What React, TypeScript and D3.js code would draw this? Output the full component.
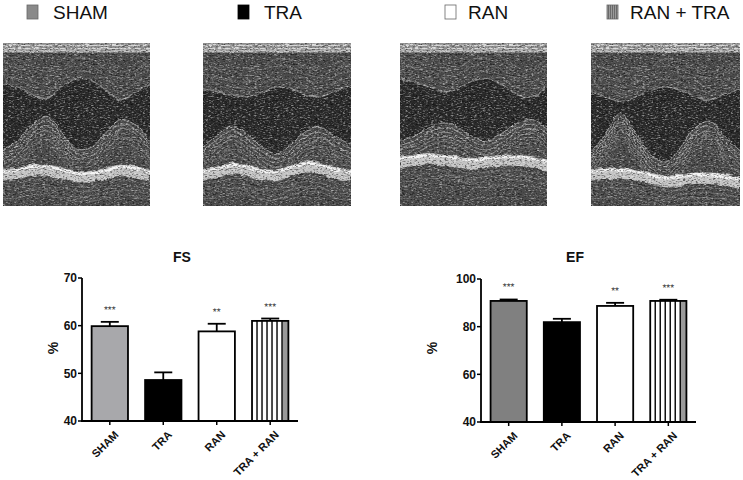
import * as d3 from "d3";

const GROUPS = ["SHAM", "TRA", "RAN", "TRA + RAN"];
const LEGEND_LABELS = ["SHAM", "TRA", "RAN", "RAN + TRA"];

const FS_MEAN = [59.9, 48.6, 58.8, 61.0];
const FS_SEM = [0.9, 1.6, 1.6, 0.5];
const FS_STARS = ["***", "", "**", "***"];
const FS_TICKS = [40, 50, 60, 70];

const EF_MEAN = [90.8, 81.9, 88.7, 90.8];
const EF_SEM = [0.6, 1.4, 1.3, 0.5];
const EF_STARS = ["***", "", "**", "***"];
const EF_TICKS = [40, 60, 80, 100];

// M-mode wall traces (fraction of image height), 11 samples across each image
const SEPTUM = [
  [0.25, 0.27, 0.32, 0.34, 0.27, 0.22, 0.23, 0.29, 0.35, 0.3, 0.25],
  [0.28, 0.3, 0.32, 0.33, 0.3, 0.27, 0.28, 0.32, 0.33, 0.29, 0.26],
  [0.22, 0.24, 0.27, 0.3, 0.28, 0.23, 0.22, 0.26, 0.32, 0.33, 0.27],
  [0.3, 0.33, 0.36, 0.33, 0.29, 0.27, 0.29, 0.33, 0.35, 0.31, 0.29],
];
const POSTERIOR = [
  [0.66, 0.6, 0.5, 0.45, 0.55, 0.65, 0.64, 0.55, 0.47, 0.5, 0.6],
  [0.64, 0.56, 0.51, 0.56, 0.64, 0.68, 0.62, 0.54, 0.52, 0.58, 0.62],
  [0.6, 0.57, 0.52, 0.49, 0.52, 0.58, 0.6, 0.55, 0.49, 0.47, 0.53],
  [0.68, 0.55, 0.43, 0.55, 0.68, 0.73, 0.64, 0.52, 0.48, 0.58, 0.66],
];
const EPICARDIUM = [
  [0.8, 0.79, 0.77, 0.77, 0.79, 0.81, 0.81, 0.79, 0.77, 0.78, 0.8],
  [0.8, 0.78, 0.76, 0.77, 0.8, 0.8, 0.77, 0.75, 0.76, 0.79, 0.8],
  [0.72, 0.71, 0.7, 0.71, 0.72, 0.73, 0.72, 0.71, 0.71, 0.72, 0.74],
  [0.8, 0.79, 0.79, 0.8, 0.82, 0.84, 0.83, 0.82, 0.82, 0.83, 0.85],
];

const FONT = "Arial, 'Liberation Sans', Helvetica, sans-serif";

function Echo({ i, x0, x1, y0, y1 }: { i: number; x0: number; x1: number; y0: number; y1: number }) {
  const w = x1 - x0;
  const h = y1 - y0;
  const xs = d3.scaleLinear().domain([0, 10]).range([0, w]);
  const ys = d3.scaleLinear().domain([0, 1]).range([0, h]);
  const trace = (vals: number[], off: number) =>
    d3.line<number>().x((_, j) => xs(j)).y((v) => ys(v + off)).curve(d3.curveCatmullRom)(vals) ?? "";
  const band = (vals: number[], a: number, b: number) =>
    d3.area<number>().x((_, j) => xs(j)).y0((v) => ys(v + a)).y1((v) => ys(v + b)).curve(d3.curveCatmullRom)(vals) ?? "";
  const cavity =
    d3.area<number>()
      .x((_, j) => xs(j))
      .y0((v) => ys(v))
      .y1((_, j) => ys(POSTERIOR[i][j]))
      .curve(d3.curveCatmullRom)(SEPTUM[i]) ?? "";

  return (
    <g transform={`translate(${x0},${y0})`} clipPath={`url(#clip${i})`}>
      <clipPath id={`clip${i}`}>
        <rect width={w} height={h} />
      </clipPath>
      <rect width={w} height={h} fill="#4a4a4a" />
      <rect width={w} height={ys(0.06)} fill="#8f8f8f" />
      <g filter="url(#wobble)">
        {[0.015, 0.035, 0.05].map((t) => (
          <line key={t} x1={-5} x2={w + 5} y1={ys(t)} y2={ys(t)} stroke="#eee" strokeWidth={1.3} opacity={0.75} />
        ))}
        {[0.05, 0.09, 0.13, 0.17].map((o) => (
          <path key={o} d={trace(SEPTUM[i], -o)} fill="none" stroke="#8c8c8c" strokeWidth={0.9} opacity={0.55} />
        ))}
        <path d={cavity} fill="#2a2a2a" />
        <path d={trace(SEPTUM[i], 0)} fill="none" stroke="#a0a0a0" strokeWidth={1.2} opacity={0.8} />
        {d3.range(0, 7).map((k) => (
          <path
            key={k}
            d={trace(POSTERIOR[i], k * 0.028)}
            fill="none"
            stroke="#bdbdbd"
            strokeWidth={1}
            opacity={0.85 - k * 0.09}
          />
        ))}
        <path d={band(EPICARDIUM[i], -0.025, 0.045)} fill="#c4c4c4" />
        <path d={trace(EPICARDIUM[i], -0.01)} fill="none" stroke="#f4f4f4" strokeWidth={2.2} />
        {[0.07, 0.1, 0.13, 0.16].map((o) => (
          <path key={o} d={trace(EPICARDIUM[i], o)} fill="none" stroke="#9a9a9a" strokeWidth={0.9} opacity={0.55} />
        ))}
      </g>
      <rect width={w} height={h} fill="#fff" filter="url(#speckW)" opacity={0.5} />
      <rect width={w} height={h} fill="#000" filter="url(#speckB)" opacity={0.6} />
    </g>
  );
}

interface PanelProps {
  title: string;
  means: number[];
  sems: number[];
  stars: string[];
  ticks: number[];
  left: number;
  right: number;
  top: number;
  bottom: number;
  shamFill: string;
  titleX: number;
  pctX: number;
}

function BarPanel(p: PanelProps) {
  const x = d3.scaleBand<string>().domain(GROUPS).range([p.left, p.right]).paddingInner(0.32).paddingOuter(0.18);
  const y = d3.scaleLinear().domain([p.ticks[0], p.ticks[p.ticks.length - 1]]).range([p.bottom, p.top]);
  const bw = x.bandwidth();
  const fills = [p.shamFill, "#000", "#fff", "#fff"];

  return (
    <g fontFamily={FONT} fontWeight="bold">
      <text x={p.titleX} y={262} textAnchor="middle" fontSize={14} fill="#111">
        {p.title}
      </text>
      <text transform={`translate(${p.pctX},348) rotate(-90)`} textAnchor="middle" dy="0.35em" fontSize={14} fill="#111">
        %
      </text>
      {GROUPS.map((g, i) => {
        const bx = x(g)!;
        const by = y(p.means[i]);
        const ey = y(p.means[i] + p.sems[i]);
        const cx = bx + bw / 2;
        return (
          <g key={g}>
            <line x1={cx} x2={cx} y1={by} y2={ey} stroke="#000" strokeWidth={1.8} />
            <line x1={cx - 9} x2={cx + 9} y1={ey} y2={ey} stroke="#000" strokeWidth={1.8} />
            <rect x={bx} y={by} width={bw} height={p.bottom - by} fill={fills[i]} />
            {i === 3 && (
              <>
                <rect x={bx + bw - 6} y={by} width={6} height={p.bottom - by} fill="#9a9a9a" />
                {d3.range(5, bw - 4, 5).map((o) => (
                  <line key={o} x1={bx + o} x2={bx + o} y1={by} y2={p.bottom} stroke="#000" strokeWidth={1.4} />
                ))}
              </>
            )}
            <rect x={bx} y={by} width={bw} height={p.bottom - by} fill="none" stroke="#000" strokeWidth={1.8} />
            {p.stars[i] && (
              <text
                x={cx}
                y={ey - 9}
                textAnchor="middle"
                fontSize={10}
                fontWeight="normal"
                fill="#333"
                style={{ textRendering: "geometricPrecision" }}
              >
                {p.stars[i]}
              </text>
            )}
            <line x1={cx} x2={cx} y1={p.bottom} y2={p.bottom + 4} stroke="#000" strokeWidth={1.5} />
            <text
              transform={`translate(${cx + 4},${p.bottom + 9}) rotate(-45)`}
              textAnchor="end"
              dy="0.7em"
              fontSize={11}
              fill="#111"
            >
              {g}
            </text>
          </g>
        );
      })}
      <line x1={p.left} x2={p.left} y1={p.bottom} y2={p.top} stroke="#000" strokeWidth={1.8} />
      <line x1={p.left - 1} x2={p.right} y1={p.bottom} y2={p.bottom} stroke="#000" strokeWidth={1.8} />
      {p.ticks.map((t) => (
        <g key={t}>
          <line x1={p.left - 4} x2={p.left} y1={y(t)} y2={y(t)} stroke="#000" strokeWidth={1.5} />
          <text x={p.left - 5} y={y(t)} dy="0.35em" textAnchor="end" fontSize={12} fill="#111">
            {t}
          </text>
        </g>
      ))}
    </g>
  );
}

export default function App() {
  const legendBox = [27, 238, 445, 607];
  const legendText = [53, 264, 468, 630];
  const legendFill = ["#8a8a8a", "#000", "#fff", "url(#legStripe)"];
  const imgLeft = [3, 203, 400, 591];
  const imgRight = [150, 351, 547, 740];

  return (
    <svg
      width={743}
      height={480}
      style={{ position: "absolute", left: 0, top: 0, background: "#fff" }}
    >
      <defs>
        <filter id="speckW" x="0" y="0" width="100%" height="100%">
          <feTurbulence type="fractalNoise" baseFrequency="0.35 1.1" numOctaves={2} seed={4} />
          <feColorMatrix type="matrix" values="0 0 0 0 1  0 0 0 0 1  0 0 0 0 1  3 0 0 0 -1.5" />
        </filter>
        <filter id="speckB" x="0" y="0" width="100%" height="100%">
          <feTurbulence type="fractalNoise" baseFrequency="0.4 1.2" numOctaves={2} seed={11} />
          <feColorMatrix type="matrix" values="0 0 0 0 0  0 0 0 0 0  0 0 0 0 0  -3 0 0 0 1.5" />
        </filter>
        <filter id="wobble" x="-5%" y="-5%" width="110%" height="110%">
          <feTurbulence type="fractalNoise" baseFrequency="0.12 0.3" numOctaves={2} seed={2} result="n" />
          <feDisplacementMap in="SourceGraphic" in2="n" scale={4} xChannelSelector="R" yChannelSelector="G" />
        </filter>
        <pattern id="legStripe" patternUnits="userSpaceOnUse" width={2} height={4}>
          <rect width={2} height={4} fill="#9a9a9a" />
          <rect width={1} height={4} fill="#6a6a6a" />
        </pattern>
      </defs>

      <g fontFamily={FONT} fontSize={19} fill="#111">
        {LEGEND_LABELS.map((l, i) => (
          <g key={l}>
            <rect
              x={legendBox[i]}
              y={5}
              width={11}
              height={14}
              fill={legendFill[i]}
              stroke={i === 1 ? "#000" : "#666"}
              strokeWidth={0.8}
            />
            <text x={legendText[i]} y={19}>
              {l}
            </text>
          </g>
        ))}
      </g>

      {imgLeft.map((l, i) => (
        <Echo key={i} i={i} x0={l} x1={imgRight[i]} y0={43} y1={206} />
      ))}

      <BarPanel
        title="FS"
        means={FS_MEAN}
        sems={FS_SEM}
        stars={FS_STARS}
        ticks={FS_TICKS}
        left={82}
        right={298}
        top={278}
        bottom={421}
        shamFill="#a8a8ab"
        titleX={182}
        pctX={53}
      />
      <BarPanel
        title="EF"
        means={EF_MEAN}
        sems={EF_SEM}
        stars={EF_STARS}
        ticks={EF_TICKS}
        left={481}
        right={696}
        top={279}
        bottom={422}
        shamFill="#808080"
        titleX={575}
        pctX={432}
      />
    </svg>
  );
}
